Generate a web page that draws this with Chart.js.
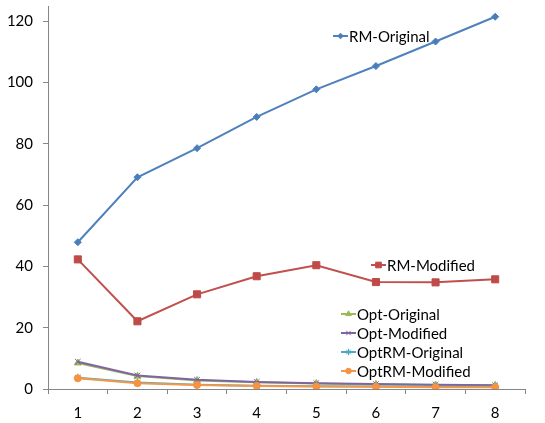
<!DOCTYPE html>
<html>
<head>
<meta charset="utf-8">
<script src="https://cdn.jsdelivr.net/npm/chart.js@4"></script>
<style>
html,body{margin:0;padding:0;background:#fff;}
#c{display:block;}
</style>
</head>
<body>
<canvas id="c" width="545" height="423"></canvas>
<script>
const categories = ['1','2','3','4','5','6','7','8'];
const seriesNames = ['RM-Original','RM-Modified','Opt-Original','Opt-Modified','OptRM-Original','OptRM-Modified'];
const rmOriginal    = [47.9, 69.1, 78.6, 88.8, 97.8, 105.4, 113.4, 121.5];
const rmModified    = [42.3, 22.1, 30.9, 36.8, 40.4, 34.9, 34.8, 35.8];
const optOriginal   = [8.5, 4.2, 2.8, 2.2, 1.8, 1.5, 1.3, 1.2];
const optModified   = [8.9, 4.4, 3.0, 2.3, 1.9, 1.6, 1.4, 1.2];
const optRmOriginal = [3.7, 2.1, 1.4, 1.1, 0.9, 0.8, 0.7, 0.7];
const optRmModified = [3.5, 1.9, 1.3, 1.0, 0.8, 0.7, 0.6, 0.6];
const yTickValues = [0, 20, 40, 60, 80, 100, 120];

const FONT = 'Lato, "Open Sans", "DejaVu Sans", sans-serif';

const styles = [
  {line:'#4F81BD', fill:'#4A7EBB', shape:'rectRot', r:3.5},
  {line:'#C0504D', fill:'#BE4B48', shape:'rect', r:5},
  {line:'#9BBB59', fill:'#98B954', shape:'triangle', r:4},
  {line:'#8064A2', fill:'#7D60A0', shape:'crossRot', r:4},
  {line:'#4BACC6', fill:'#46AAC5', shape:'star', r:4},
  {line:'#F79646', fill:'#F69240', shape:'circle', r:3.5}
];
const allSeries = [rmOriginal, rmModified, optOriginal, optModified, optRmOriginal, optRmModified];

const datasets = allSeries.map((d, i) => ({
  label: seriesNames[i],
  data: d,
  borderColor: styles[i].line,
  backgroundColor: styles[i].fill,
  pointBackgroundColor: styles[i].fill,
  pointBorderColor: styles[i].fill,
  pointStyle: styles[i].shape,
  pointRadius: styles[i].r,
  pointBorderWidth: 1,
  borderWidth: 2,
  tension: 0,
  order: allSeries.length - 1 - i
}));

const legendPlugin = {
  id: 'placedLegend',
  afterDraw(chart, args, opts) {
    const ctx = chart.ctx;
    ctx.save();
    ctx.font = opts.fontSize + 'px ' + FONT;
    ctx.textBaseline = 'middle';
    ctx.textAlign = 'left';
    opts.places.forEach((p, i) => {
      const st = styles[i];
      ctx.strokeStyle = st.line;
      ctx.lineWidth = 2;
      ctx.beginPath();
      ctx.moveTo(p[0], p[1]);
      ctx.lineTo(p[0] + 15, p[1]);
      ctx.stroke();
      ctx.fillStyle = st.fill;
      ctx.strokeStyle = st.fill;
      ctx.lineWidth = 1;
      Chart.helpers.drawPoint(ctx, {pointStyle: st.shape, radius: st.r * 0.8, borderWidth: 1}, p[0] + 7.5, p[1]);
      ctx.fillStyle = '#000';
      ctx.fillText(seriesNames[i], p[0] + 16, p[1] + 1);
    });
    ctx.restore();
  }
};

new Chart(document.getElementById('c'), {
  type: 'line',
  data: { labels: categories, datasets },
  plugins: [legendPlugin],
  options: {
    responsive: false,
    animation: false,
    devicePixelRatio: 1,
    layout: { padding: { top: 5, right: 20, left: 0, bottom: 0 } },
    plugins: {
      legend: { display: false },
      tooltip: { enabled: false },
      placedLegend: {
        fontSize: 15,
        places: [[333, 36], [371, 265], [341, 314], [341, 333], [341, 352], [341, 371]]
      }
    },
    scales: {
      x: {
        offset: true,
        grid: { offset: true, drawOnChartArea: false, drawTicks: true, tickLength: 5, color: '#868686' },
        border: { display: true, color: '#868686', width: 1 },
        ticks: { color: '#000', font: { family: FONT, size: 15 }, padding: 10, maxRotation: 0 },
        afterFit(scale) { scale.height = 34; scale.paddingLeft = 0; scale.paddingRight = 0; }
      },
      y: {
        min: 0,
        max: 125,
        afterBuildTicks(scale) { scale.ticks = yTickValues.map(v => ({ value: v })); },
        grid: { drawOnChartArea: false, drawTicks: true, tickLength: 5, color: '#868686' },
        border: { display: true, color: '#868686', width: 1 },
        ticks: { color: '#000', font: { family: FONT, size: 15 }, padding: 10 },
        afterFit(scale) { scale.width = 48; scale.paddingTop = 0; scale.paddingBottom = 0; }
      }
    }
  }
});
</script>
</body>
</html>
